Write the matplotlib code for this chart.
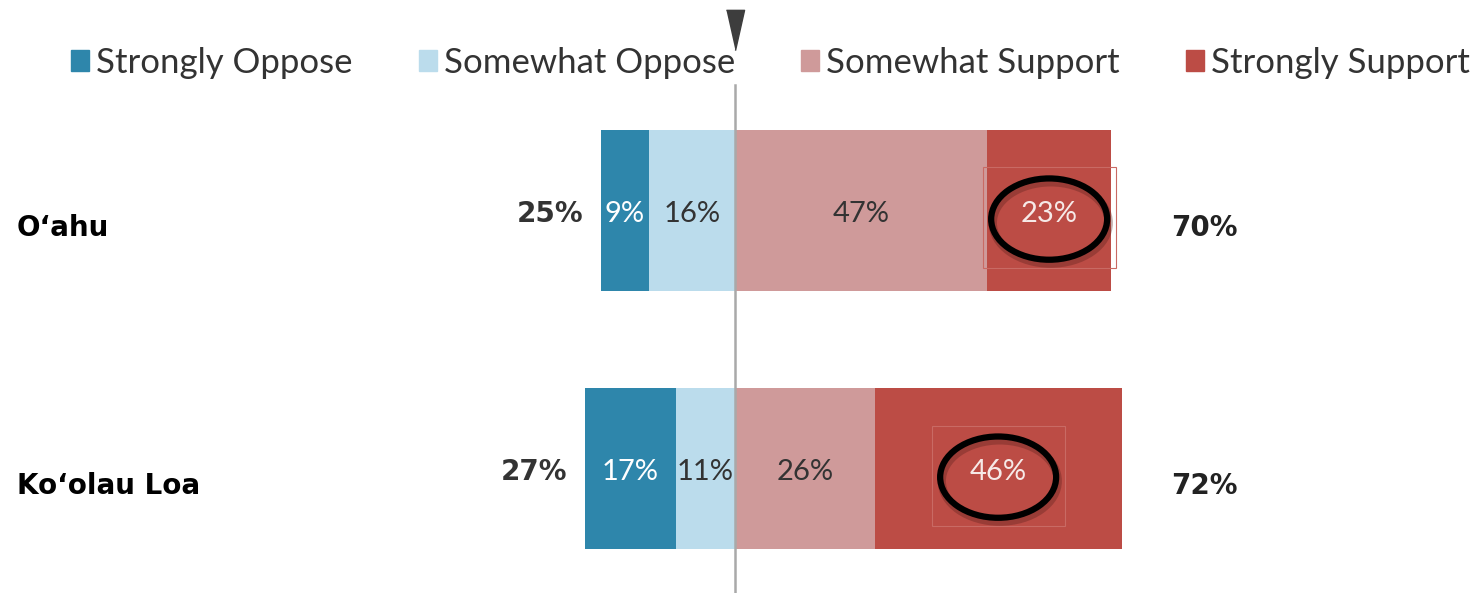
import matplotlib
matplotlib.use("Agg")
import matplotlib.pyplot as plt
import matplotlib.patches as mpatches
import numpy as np

# data
regions = ["O\u2018ahu", "Ko\u2018olau Loa"]
strongly_oppose = [9, 17]
somewhat_oppose = [16, 11]
somewhat_support = [47, 26]
strongly_support = [23, 46]
oppose_totals = [25, 27]
support_totals = [70, 72]
legend_labels = ["Strongly Oppose", "Somewhat Oppose", "Somewhat Support", "Strongly Support"]

colors = ["#2e86ab", "#bbdcec", "#cf9a9a", "#bc4c45"]
text_colors = ["white", "#333333", "#333333", "#f6e9e7"]

fig = plt.figure(figsize=(14.76, 5.93), dpi=100)
ax = fig.add_axes([0, 0, 1, 1])
ax.set_xlim(-136.9, 138.0)
ax.set_ylim(1.484, -0.814)
ax.axis("off")

y = np.arange(len(regions))
h = 0.624

so = np.array(strongly_oppose)
wo = np.array(somewhat_oppose)
ws = np.array(somewhat_support)
ss = np.array(strongly_support)

segments = [
    (-(so + wo), so),
    (-wo, wo),
    (np.zeros(len(y)), ws),
    (ws, ss),
]

for (left, width), c, tc in zip(segments, colors, text_colors):
    ax.barh(y, width, left=left, height=h, color=c, edgecolor="none", zorder=2)
    for yi, l, w in zip(y, left, width):
        ax.text(l + w / 2, yi + 0.015, f"{w}%", ha="center", va="center",
                fontsize=21, family="Lato", color=tc, zorder=6)

# faint highlight box and circle round the strongly-support value
for yi, l, w in zip(y, ws, ss):
    cx = l + w / 2
    box = mpatches.Rectangle((cx - 12.4, yi + 0.03 - 0.195), 24.8, 0.39,
                             fill=False, edgecolor="#c96a64", lw=0.8, zorder=3)
    ax.add_patch(box)
    shadow = mpatches.Ellipse((cx + 0.3, yi + 0.05), 21.6, 0.315, fill=False,
                              edgecolor="#5a1f1c", lw=6, alpha=0.35, zorder=4)
    ax.add_patch(shadow)
    ell = mpatches.Ellipse((cx, yi + 0.035), 21.6, 0.315, fill=False,
                           edgecolor="black", lw=4.5, zorder=5)
    ax.add_patch(ell)

# totals
label_offset = 0.068
for yi, tot, l in zip(y, oppose_totals, -(so + wo)):
    ax.text(l - 3.3, yi + 0.015, f"{tot}%", ha="right", va="center",
            fontsize=20, fontweight="bold", color="#333333")
for yi, tot in zip(y, support_totals):
    ax.text(81.3, yi + label_offset, f"{tot}%", ha="left", va="center",
            fontsize=20, fontweight="bold", color="#222222")

# region labels
for yi, name in zip(y, regions):
    ax.text(0.0115, yi + label_offset, name, transform=ax.get_yaxis_transform(),
            ha="left", va="center", fontsize=20, fontweight="bold", color="black")

# center line and marker
ax.axvline(0, ymin=0, ymax=0.857, color="#a9a9a9", lw=1.8, zorder=3)
tri = [(-0.45, 1), (0.45, 1), (0, -1)]
ax.plot([0], [-0.698], marker=tri, markersize=29, color="#3d3d3d", clip_on=False)

handles = [mpatches.Patch(color=c) for c in colors]
fig.legend(handles, legend_labels, loc="center", bbox_to_anchor=(0.522, 0.894),
           ncol=4, frameon=False, prop={"family": "Lato", "size": 25},
           labelcolor="#333333", handlelength=0.52, handleheight=0.52,
           handletextpad=0.2, columnspacing=1.9)

fig.savefig("out.png", dpi=100)
